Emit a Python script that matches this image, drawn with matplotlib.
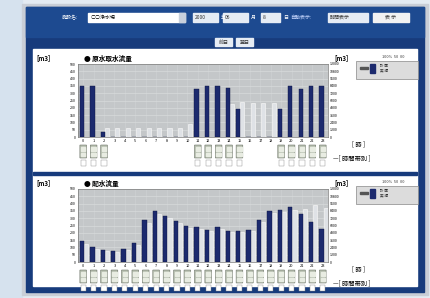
import matplotlib
matplotlib.use("Agg")
import matplotlib.pyplot as plt
from matplotlib.patches import Rectangle, FancyBboxPatch
import numpy as np

plt.rcParams['font.family'] = ['Noto Sans CJK JP', 'DejaVu Sans']

W, H = 430, 298

hours = list(range(24))
hour_labels = [str(h) for h in hours]
top_title = "● 原水取水流量"
bot_title = "● 配水流量"
top_actual = [350, 350, 35, 0, 0, 0, 0, 0, 0, 0, 0, 330, 350, 350, 335, 190, 0, 0, 0, 190, 350, 330, 350, 350]
top_plan = [0, 0, 60, 60, 60, 60, 60, 60, 60, 60, 90, 0, 0, 0, 225, 240, 235, 235, 235, 0, 0, 0, 0, 0]
bot_actual = [145, 105, 80, 75, 90, 130, 290, 350, 315, 280, 245, 240, 220, 240, 210, 210, 220, 290, 350, 355, 375, 330, 275, 225]
bot_plan = [120, 90, 75, 70, 85, 115, 270, 330, 300, 265, 235, 225, 215, 225, 205, 205, 215, 275, 335, 340, 355, 365, 390, 370]
left_ticks = list(range(0, 501, 50))
right_ticks = list(range(0, 12001, 1200))
top_icon_hours = [0, 1, 2, 11, 12, 13, 14, 15, 19, 20, 21, 22, 23]
bot_icon_hours = hours

fig = plt.figure(figsize=(W / 100, H / 100), dpi=100)


def rect(x0, y0, x1, y1):
    return [x0 / W, 1 - y1 / H, (x1 - x0) / W, (y1 - y0) / H]


# background canvas in pixel coords
bg = fig.add_axes([0, 0, 1, 1])
bg.set_xlim(0, W)
bg.set_ylim(H, 0)
bg.axis('off')
bg.add_patch(Rectangle((0, 0), W, H, color='#e4ebf2'))
bg.add_patch(Rectangle((0, 0), 22, H, color='#d6e2ee'))
bg.add_patch(Rectangle((22, 4), 406, 291, color='#c9ced6'))
bg.add_patch(Rectangle((26, 7), 398, 285, color='#173b7c'))
bg.add_patch(Rectangle((26, 7), 398, 30, color='#1d4a90'))
bg.add_patch(Rectangle((33, 49), 384, 237, color='white'))
bg.add_patch(Rectangle((33, 172), 384, 3, color='#173b7c'))

# header controls
fs = 3.6
bg.text(62, 17.5, "施設名:", fontsize=fs, color='white', va='center')
bg.add_patch(Rectangle((88, 13), 97, 9, color='white'))
bg.text(91, 17.5, "○○浄水場", fontsize=fs, color='black', va='center')
bg.add_patch(Rectangle((179, 13), 6, 9, color='#c8d0dc'))
for (x0, x1, t, u) in [(193, 218, "2000", "年"), (223, 248, "06", "月"), (261, 280, "8", "日")]:
    bg.add_patch(Rectangle((x0, 13), x1 - x0, 9, color='#e6ecf4'))
    bg.text(x0 + 2, 17.5, t, fontsize=fs, color='#333', va='center')
    bg.text(x1 + 3, 17.5, u, fontsize=fs, color='white', va='center')
bg.text(290, 17.5, "自動表示:", fontsize=fs, color='#c8d8ff', va='center')
bg.add_patch(Rectangle((328, 13), 40, 9, color='#e6ecf4'))
bg.text(330, 17.5, "時間表示", fontsize=fs, color='#333', va='center')
bg.add_patch(Rectangle((373, 13), 36, 9, color='#f2f2f2'))
bg.text(391, 17.5, "表 示", fontsize=fs, color='#333', va='center', ha='center')
for x0, t in [(215, "前日"), (236, "翌日")]:
    bg.add_patch(Rectangle((x0, 38), 17, 8, color='#e6ecf4'))
    bg.text(x0 + 8.5, 42, t, fontsize=fs, color='#333', va='center', ha='center')


def panel(y_top, title, actual, plan, icon_hours):
    py0, py1 = y_top + 14, y_top + 87
    bg.text(36, y_top + 8, "[m3]", fontsize=4.5, color='black', va='center', fontweight='bold')
    bg.text(84, y_top + 8, title, fontsize=4.8, color='black', va='center', fontweight='bold')
    bg.text(334, y_top + 8, "[m3]", fontsize=4.5, color='black', va='center', fontweight='bold')
    bg.text(382, y_top + 7, "100%  50  00", fontsize=2.8, color='#333', va='center')
    bg.add_patch(Rectangle((356, y_top + 11), 62, 18, facecolor='#dcdcdc', edgecolor='#888', lw=0.5))
    bg.add_patch(Rectangle((360, y_top + 17), 8, 2, color='#555'))
    bg.add_patch(Rectangle((370, y_top + 14), 5, 9, color='#1c2a6e'))
    bg.text(380, y_top + 18, "計 画\n実 績", fontsize=2.6, color='#333', va='center', linespacing=1.0)
    bg.text(352, y_top + 94, "[ 時 ]", fontsize=4.5, color='black', va='center')
    bg.text(333, y_top + 108, "—[ 時間帯別 ]", fontsize=4.5, color='black', va='center')

    ax = fig.add_axes(rect(78, py0, 328, py1))
    ax.set_facecolor('#c4c7c9')
    x = np.array(hours)
    ax.bar(x + 0.28, plan, width=0.4, color='#dfe2e6', edgecolor='#f4f4f4', lw=0.5, zorder=2)
    ax.bar(x - 0.12, actual, width=0.42, color='#1c2a6e', edgecolor='#0e1640', lw=0.3, zorder=3)
    ax.set_xlim(-0.5, 23.5)
    ax.set_ylim(0, 500)
    ax.set_yticks(left_ticks)
    ax.set_yticklabels([str(v) for v in left_ticks], fontsize=2.6)
    ax.set_xticks(hours)
    ax.set_xticklabels(hour_labels, fontsize=2.8)
    ax.tick_params(length=0, pad=1.5)
    ax.grid(axis='y', color='#d8dadb', lw=0.5, zorder=0)
    ax.grid(axis='x', color='#cfd2d4', lw=0.4, zorder=0)
    ax.set_axisbelow(True)
    for s in ax.spines.values():
        s.set_color('#777')
        s.set_linewidth(0.5)
    ax2 = ax.twinx()
    ax2.set_ylim(0, 12000)
    ax2.set_yticks(right_ticks)
    ax2.set_yticklabels([str(v) for v in right_ticks], fontsize=2.6)
    ax2.tick_params(length=0, pad=1.5)
    for s in ax2.spines.values():
        s.set_visible(False)

    ic = fig.add_axes(rect(78, py1 + 7, 328, py1 + 30))
    ic.set_xlim(-0.5, 23.5)
    ic.set_ylim(23, 0)
    ic.axis('off')
    for h in icon_hours:
        ic.add_patch(FancyBboxPatch((h - 0.32, 1), 0.64, 13, boxstyle='round,pad=0,rounding_size=0.1',
                                    facecolor='#b7bfb0', edgecolor='#6d7468', lw=0.4))
        ic.add_patch(Rectangle((h - 0.22, 3), 0.44, 4, color='#e8ece2'))
        ic.add_patch(Rectangle((h - 0.22, 9), 0.44, 3, color='#e8ece2'))
        ic.add_patch(Rectangle((h - 0.25, 16), 0.5, 6, facecolor='white', edgecolor='#888', lw=0.3))


panel(50, top_title, top_actual, top_plan, top_icon_hours)
panel(175, bot_title, bot_actual, bot_plan, bot_icon_hours)

fig.savefig("out.png", dpi=100)
